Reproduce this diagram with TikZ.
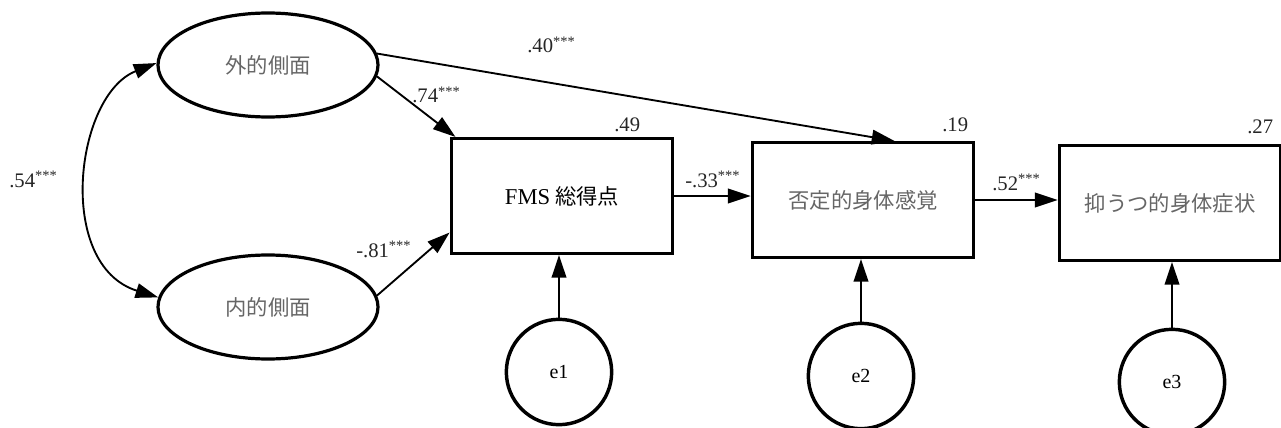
\documentclass[tikz,border=0pt]{standalone}
\usepackage{fontspec}
\setmainfont{Liberation Serif}
\newfontfamily\jpfont{Noto Sans CJK JP}
\usepackage{tikz}
\usetikzlibrary{positioning,arrows.meta,shapes.geometric}

\tikzset{
  latent/.style={ellipse, draw, line width=2.4pt, minimum width=165pt, minimum height=78pt, inner sep=0pt, text=black!60, font=\jpfont\fontsize{16pt}{18pt}\selectfont},
  obsbox/.style={rectangle, draw, line width=2.6pt, minimum width=166pt, minimum height=86pt, inner sep=0pt, text=black!60, font=\jpfont\fontsize{16pt}{18pt}\selectfont},
  errc/.style={circle, draw, line width=2.6pt, minimum size=79pt, inner sep=0pt, font=\fontsize{15pt}{17pt}\selectfont},
  coef/.style={anchor=base west, inner sep=0pt, text=black!85, font=\fontsize{15.5pt}{17pt}\selectfont},
  sempath/.style={line width=1.4pt, -{Triangle[length=17pt,width=11pt]}},
}

\begin{document}
\begin{tikzpicture}[x=0.75pt,y=0.75pt,yscale=-1,xscale=1]
        \useasboundingbox (0,0) rectangle (1281,428);

        % Latent variables
        \node [latent] (ext) at (268,65) {外的側面};
        \node [latent] (int) at (268,307) {内的側面};

        % Observed variables
        \node [obsbox, text=black] (fms) at (562,196) {{\rmfamily\fontsize{17pt}{18pt}\selectfont FMS} 総得点};
        \node [obsbox] (neg) at (863,200) {否定的身体感覚};
        \node [obsbox] (dep) at (1170,203) {抑うつ的身体症状};

        % Error terms
        \node [errc] (e1) at (559,372) {e1};
        \node [errc] (e2) at (861,376) {e2};
        \node [errc] (e3) at (1172,382) {e3};

        % Covariance
        \draw [line width=1.4pt, {Triangle[length=17pt,width=11pt]}-{Triangle[length=17pt,width=11pt]}] (ext.179) .. controls (75,95) and (55,265) .. (int.175);

        % Paths
        \draw [sempath] (ext.-6) -- (fms.151);
        \draw [sempath] (int.6) -- (fms.-162);
        \draw [sempath] (ext.6) -- (neg.62);
        \draw [sempath] (fms.east) -- (fms.east -| neg.west);
        \draw [sempath] (neg.east) -- (neg.east -| dep.west);
        \draw [sempath] (e1) -- (e1 |- fms.south);
        \draw [sempath] (e2) -- (e2 |- neg.south);
        \draw [sempath] (e3) -- (e3 |- dep.south);

        % Text Node
        \node [coef] (c54) at (9,187) {.54\textsuperscript{***}};
        \node [coef] (c74) at (412,103) {.74\textsuperscript{***}};
        \node [coef] (c81) at (356,257) {-.81\textsuperscript{***}};
        \node [coef] (c40) at (527,53) {.40\textsuperscript{***}};
        \node [coef] (c33) at (685,187) {-.33\textsuperscript{***}};
        \node [coef] (c52) at (992,190) {.52\textsuperscript{***}};
        \node [coef] (r49) at (614,131) {.49};
        \node [coef] (r19) at (942,132) {.19};
        \node [coef] (r27) at (1247,133) {.27};
\end{tikzpicture}
\end{document}
